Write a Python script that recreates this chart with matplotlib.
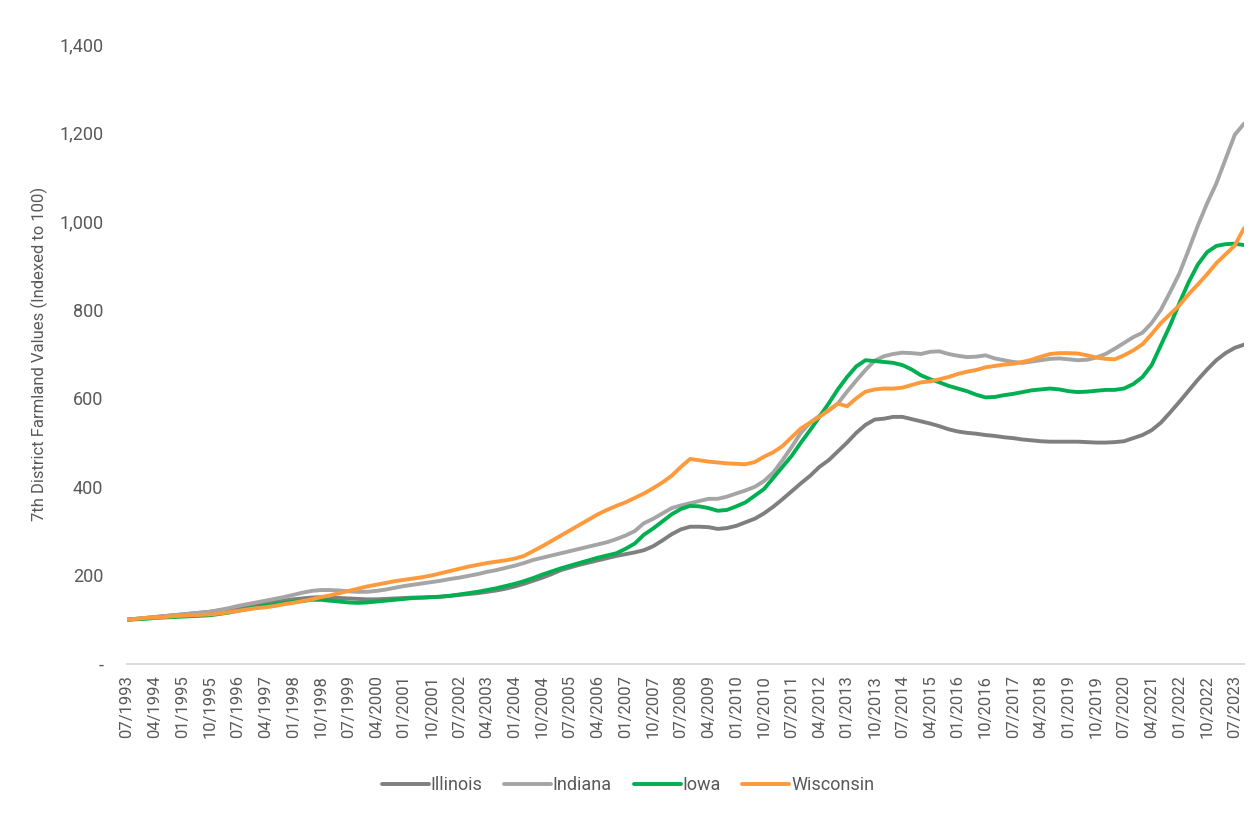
import matplotlib
matplotlib.use("Agg")
import matplotlib.pyplot as plt
import matplotlib.ticker as mticker
import pandas as pd

plt.rcParams["font.family"] = ["Roboto", "DejaVu Sans"]

# quarterly, 07/1993 .. 10/2023
quarters = pd.period_range("1993Q3", "2023Q4", freq="Q")
labels = [f"{(q.quarter - 1) * 3 + 1:02d}/{q.year}" for q in quarters]

illinois = [
    100, 102, 104, 106, 108, 110, 112, 114, 116, 118,
    121, 124, 127, 131, 134, 137, 140, 143, 146, 148,
    150, 151, 150, 149, 148, 147, 146, 146, 147, 148,
    149, 150, 150, 151, 152, 154, 156, 158, 160, 163,
    166, 170, 175, 181, 188, 195, 203, 212, 218, 224,
    229, 234, 239, 244, 248, 252, 257, 266, 279, 293,
    304, 310, 310, 309, 305, 307, 312, 320, 328, 340,
    355, 372, 390, 408, 425, 445, 460, 480, 500, 522,
    540, 552, 554, 558, 558, 553, 548, 543, 537, 530,
    525, 522, 520, 517, 515, 512, 510, 507, 505, 503,
    502, 502, 502, 502, 501, 500, 500, 501, 503, 510,
    517, 528, 545, 568, 592, 617, 642, 665, 686, 702,
    714, 721,
]

indiana = [
    100, 102, 104, 106, 108, 110, 112, 114, 116, 118,
    122, 126, 131, 135, 139, 143, 147, 151, 156, 161,
    165, 167, 167, 166, 164, 163, 163, 165, 168, 172,
    176, 179, 182, 185, 188, 192, 195, 199, 203, 208,
    212, 217, 222, 228, 235, 240, 245, 250, 255, 260,
    265, 270, 275, 282, 290, 300, 318, 328, 340, 352,
    358, 363, 368, 373, 373, 378, 385, 392, 400, 413,
    432, 460, 490, 522, 545, 560, 572, 588, 615, 640,
    664, 685, 695, 700, 703, 702, 700, 705, 706, 700,
    696, 693, 694, 697, 690, 686, 682, 680, 683, 686,
    689, 690, 688, 686, 687, 692, 700, 712, 725, 738,
    748, 770, 800, 840, 882, 935, 990, 1040, 1085, 1140,
    1195, 1220,
]

iowa = [
    100, 101, 102, 104, 105, 106, 107, 108, 109, 110,
    113, 116, 120, 124, 128, 132, 135, 138, 140, 142,
    145, 145, 143, 141, 139, 138, 139, 141, 143, 145,
    147, 149, 150, 151, 152, 154, 157, 160, 163, 167,
    171, 176, 181, 187, 194, 202, 209, 216, 222, 228,
    234, 240, 245, 250, 260, 272, 292, 306, 322, 338,
    350, 357, 356, 352, 346, 348, 356, 365, 380, 395,
    420, 445, 470, 500, 528, 558, 588, 620, 648, 672,
    686, 684, 682, 680, 675, 665, 652, 643, 636, 628,
    622, 616, 608, 602, 603, 607, 610, 614, 618, 620,
    622, 620, 616, 614, 615, 617, 619, 619, 622, 632,
    648, 675, 720, 765, 815, 862, 902, 930, 944, 948,
    949, 946,
]

wisconsin = [
    100, 102, 104, 105, 106, 108, 109, 110, 111, 112,
    114, 117, 120, 123, 126, 128, 131, 135, 138, 142,
    146, 151, 155, 160, 165, 170, 175, 179, 183, 187,
    190, 193, 196, 200, 205, 210, 215, 220, 224, 228,
    231, 234, 238, 244, 255, 266, 278, 290, 302, 314,
    326, 338, 348, 357, 365, 375, 385, 397, 410, 425,
    445, 463, 460, 457, 455, 453, 452, 451, 456, 468,
    478, 492, 512, 532, 545, 558, 573, 588, 582, 600,
    615, 620, 622, 622, 624, 630, 636, 638, 643, 648,
    655, 660, 664, 670, 673, 676, 678, 682, 687, 694,
    700, 702, 702, 701, 697, 692, 689, 688, 697, 708,
    722, 745, 770, 790, 810, 835, 857, 880, 905, 925,
    945, 984,
]

series = [
    ("Illinois", illinois, "#7f7f7f"),
    ("Indiana", indiana, "#a5a5a5"),
    ("Iowa", iowa, "#00b050"),
    ("Wisconsin", wisconsin, "#ff9a3c"),
]

text_color = "#595959"

fig = plt.figure(figsize=(12.56, 8.16), dpi=100)
ax = fig.add_axes([127 / 1256, 1 - 664 / 816, (1244 - 127) / 1256, (664 - 44) / 816])

x = list(range(len(labels)))
for name, vals, color in series:
    ax.plot(x, vals, color=color, lw=2.8, label=name, solid_capstyle="round")

ax.set_xlim(0, len(labels) - 1)
ax.set_ylim(0, 1400)

ax.set_yticks(range(0, 1401, 200))
ax.yaxis.set_major_formatter(mticker.FuncFormatter(lambda v, p: "-" if v == 0 else f"{int(v):,}"))
ax.set_xticks(x[::3])
ax.set_xticklabels(labels[::3], rotation=90)

ax.tick_params(axis="y", length=0, pad=17, labelsize=13, labelcolor=text_color)
ax.tick_params(axis="x", length=0, pad=8, labelsize=12, labelcolor=text_color)

for side in ("top", "right", "left"):
    ax.spines[side].set_visible(False)
ax.spines["bottom"].set_color("#d9d9d9")
ax.spines["bottom"].set_linewidth(1.3)

ax.set_ylabel("7th District Farmland Values (Indexed to 100)", fontsize=12, color=text_color, labelpad=8)

fig.legend(loc="center", bbox_to_anchor=(0.5, 1 - 785 / 816), ncol=4, frameon=False,
           fontsize=13, labelcolor=text_color, handlelength=2.6, handletextpad=0.1,
           columnspacing=1.2)

fig.savefig("out.png", dpi=100)
